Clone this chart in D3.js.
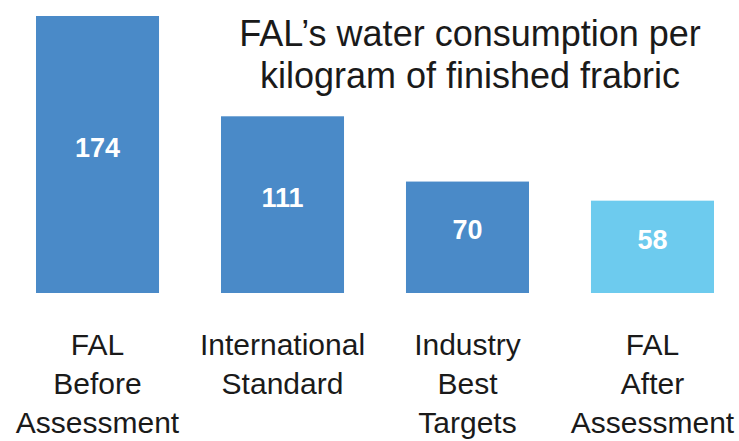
<!DOCTYPE html>
<html>
<head>
<meta charset="utf-8">
<script src="https://cdn.jsdelivr.net/npm/d3@7"></script>
<style>
  html, body { margin: 0; padding: 0; background: #fff; }
  text { font-family: "Liberation Sans", Arial, sans-serif; }
</style>
</head>
<body>
<script>
// chart data
const categories = [
    ['FAL', 'Before', 'Assessment'],
    ['International', 'Standard'],
    ['Industry', 'Best', 'Targets'],
    ['FAL', 'After', 'Assessment']
];
const values = [174, 111, 70, 58];
const barColors = ['#4a8ac8', '#4a8ac8', '#4a8ac8', '#6dcbee'];
const titleLines = ['FAL\u2019s water consumption per', 'kilogram of finished frabric'];

const width = 739;
const height = 441;
const baseY = 293;

const svg = d3.select('body')
    .append('svg')
    .attr('width', width)
    .attr('height', height);

const x = d3.scaleBand()
    .domain(d3.range(values.length))
    .range([5, 745])
    .paddingInner(0.335)
    .paddingOuter(0.1676);

const y = d3.scaleLinear()
    .domain([0, 174])
    .range([baseY, 16]);

// bars
svg.selectAll('.bar')
    .data(values)
    .enter().append('rect')
    .attr('class', 'bar')
    .attr('x', (d, i) => x(i))
    .attr('width', x.bandwidth())
    .attr('y', d => y(d))
    .attr('height', d => baseY - y(d))
    .attr('fill', (d, i) => barColors[i]);

// value labels
svg.selectAll('.val')
    .data(values)
    .enter().append('text')
    .attr('class', 'val')
    .attr('x', (d, i) => x(i) + x.bandwidth() / 2)
    .attr('y', d => (y(d) + baseY) / 2 + 2)
    .attr('text-anchor', 'middle')
    .attr('fill', '#fff')
    .attr('font-weight', 'bold')
    .attr('font-size', 27)
    .text(d => d);

// category labels
const cat = svg.selectAll('.cat')
    .data(categories)
    .enter().append('text')
    .attr('class', 'cat')
    .attr('text-anchor', 'middle')
    .attr('font-size', 30)
    .attr('fill', '#1a1a1a');

cat.selectAll('tspan')
    .data((d, i) => d.map(t => ({ t, i })))
    .enter().append('tspan')
    .attr('x', d => x(d.i) + x.bandwidth() / 2)
    .attr('y', (d, j) => 355 + j * 39)
    .text(d => d.t);

// title
svg.append('text')
    .attr('text-anchor', 'middle')
    .attr('font-size', 36)
    .attr('fill', '#1a1a1a')
    .selectAll('tspan')
    .data(titleLines)
    .enter().append('tspan')
    .attr('x', 470)
    .attr('y', (d, i) => 46 + i * 42)
    .text(d => d);
</script>
</body>
</html>
